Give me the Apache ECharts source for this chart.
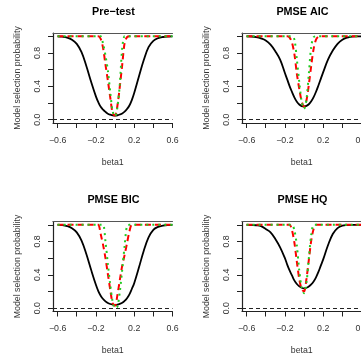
<!DOCTYPE html>
<html>
<head>
<meta charset="utf-8">
<script src="https://cdn.jsdelivr.net/npm/echarts@6/dist/echarts.min.js"></script>
<style>
html,body{margin:0;padding:0;background:#fff;}
#chart{width:361px;height:359px;}
</style>
</head>
<body>
<div id="chart"></div>
<script>
// ---- data ----
const beta1 = [-0.6,-0.55,-0.5,-0.45,-0.4,-0.35,-0.3,-0.25,-0.2,-0.175,-0.15,-0.125,-0.1,-0.075,-0.05,-0.025,0,0.025,0.05,0.075,0.1,0.125,0.15,0.175,0.2,0.25,0.3,0.35,0.4,0.45,0.5,0.55,0.6];
const xTicks = [-0.6,-0.4,-0.2,0,0.2,0.4,0.6];
const xTickLabels = [-0.6,-0.2,0.2,0.6];
const yTicks = [0,0.2,0.4,0.6,0.8,1.0];
const yTickLabels = [0,0.4,0.8];
const titles = ['Pre\u2212test','PMSE AIC','PMSE BIC','PMSE HQ'];
const xLabel = 'beta1';
const yLabel = 'Model selection probability';
const refLine = [0];

const preTestSolid  = [1.0,0.996,0.985,0.96,0.91,0.81,0.645,0.455,0.28,0.21,0.155,0.12,0.093,0.072,0.06,0.052,0.05,0.053,0.062,0.075,0.097,0.128,0.17,0.235,0.32,0.52,0.715,0.87,0.945,0.978,0.992,0.998,1.0];
const preTestDashed = [1,1,1,1,1,1,1,1,1,1,0.97,0.86,0.66,0.47,0.265,0.08,0.05,0.17,0.4,0.66,0.92,0.99,1,1,1,1,1,1,1,1,1,1,1];
const preTestDotted = [1,1,1,1,1,1,1,1,1,1,1,0.91,0.77,0.59,0.33,0.1,0.04,0.15,0.43,0.86,1,1,1,1,1,1,1,1,1,1,1,1,1];

const aicSolid  = [1,0.998,0.99,0.975,0.95,0.9,0.82,0.72,0.56,0.48,0.4,0.33,0.265,0.215,0.182,0.163,0.158,0.165,0.185,0.22,0.27,0.335,0.41,0.49,0.57,0.72,0.83,0.91,0.96,0.985,0.997,1,1];
const aicDashed = [1,1,1,1,1,1,1,1,1,1,0.985,0.92,0.78,0.55,0.37,0.22,0.155,0.23,0.42,0.65,0.85,0.96,0.995,1,1,1,1,1,1,1,1,1,1];
const aicDotted = [1,1,1,1,1,1,1,1,1,1,1,1,0.96,0.72,0.45,0.22,0.13,0.24,0.55,0.88,0.99,1,1,1,1,1,1,1,1,1,1,1,1];

const bicSolid  = [1,0.997,0.985,0.96,0.91,0.81,0.65,0.46,0.28,0.205,0.15,0.11,0.082,0.062,0.05,0.043,0.04,0.043,0.052,0.065,0.088,0.12,0.165,0.23,0.3,0.49,0.69,0.85,0.94,0.975,0.99,0.998,1];
const bicDashed = [1,1,1,1,1,1,1,1,1,1,0.89,0.76,0.6,0.41,0.22,0.06,0.03,0.16,0.34,0.51,0.64,0.78,0.92,1,1,1,1,1,1,1,1,1,1];
const bicDotted = [1,1,1,1,1,1,1,1,1,1,1,1,0.8,0.53,0.28,0.08,0.0,0.02,0.2,0.46,0.75,0.99,1,1,1,1,1,1,1,1,1,1,1];

const hqSolid  = [1,0.998,0.995,0.985,0.95,0.91,0.83,0.73,0.6,0.52,0.45,0.39,0.33,0.29,0.262,0.245,0.238,0.245,0.26,0.285,0.32,0.37,0.435,0.51,0.585,0.755,0.89,0.96,0.99,0.998,1,1,1];
const hqDashed = [1,1,1,1,1,1,1,1,1,1,1,0.93,0.78,0.555,0.35,0.23,0.2,0.35,0.58,0.81,0.95,1,1,1,1,1,1,1,1,1,1,1,1];
const hqDotted = [1,1,1,1,1,1,1,1,1,1,1,1,0.93,0.75,0.45,0.25,0.18,0.3,0.6,0.88,1,1,1,1,1,1,1,1,1,1,1,1,1];

// ---- layout / styling ----
const FONT = 'Liberation Sans, Arial, sans-serif';
const panels = [
  {title: titles[0], solid: preTestSolid, dashed: preTestDashed, dotted: preTestDotted},
  {title: titles[1], solid: aicSolid, dashed: aicDashed, dotted: aicDotted},
  {title: titles[2], solid: bicSolid, dashed: bicDashed, dotted: bicDotted},
  {title: titles[3], solid: hqSolid, dashed: hqDashed, dotted: hqDotted}
];
const gLeft = [53, 242, 53, 242];
const gTop = [33, 33, 221.5, 221.5];
const gW = 119.5, gH = 90;
const X_MIN = -0.648, X_MAX = 0.6, Y_MIN = -0.04, Y_MAX = 1.04;
const fmt = v => (v < 0 ? '\u2212' : '') + Math.abs(v).toFixed(1);
const zip = ys => beta1.map((x, i) => [x, ys[i]]);
const axisCol = '#222';
const txtCol = '#333';

const option = {
  animation: false,
  backgroundColor: '#fff',
  grid: [], xAxis: [], yAxis: [], series: [], graphic: []
};

panels.forEach((p, i) => {
  option.grid.push({left: gLeft[i], top: gTop[i], width: gW, height: gH, containLabel: false, outerBoundsMode: 'none'});
  option.xAxis.push({
    type: 'value', gridIndex: i, min: X_MIN, max: X_MAX, position: 'bottom',
    name: xLabel, nameLocation: 'middle', nameGap: 35,
    nameTextStyle: {fontFamily: FONT, fontSize: 8.8, color: txtCol},
    axisLine: {show: true, onZero: false, lineStyle: {color: axisCol, width: 1}},
    axisTick: {show: true, inside: false, length: 5, customValues: xTicks, lineStyle: {color: axisCol, width: 1}},
    axisLabel: {show: true, customValues: xTickLabels, formatter: fmt, margin: 13,
      hideOverlap: false, fontFamily: FONT, fontSize: 8.8, color: txtCol},
    splitLine: {show: false}
  });
  option.xAxis.push({
    type: 'value', gridIndex: i, min: X_MIN, max: X_MAX, position: 'top',
    axisLine: {show: true, onZero: false, lineStyle: {color: '#555', width: 1.2}},
    axisTick: {show: false}, axisLabel: {show: false}, splitLine: {show: false}
  });
  option.yAxis.push({
    type: 'value', gridIndex: i, min: Y_MIN, max: Y_MAX, position: 'left',
    name: yLabel, nameLocation: 'middle', nameGap: 31, nameRotate: 90,
    nameTextStyle: {fontFamily: FONT, fontSize: 8.8, color: txtCol},
    axisLine: {show: true, onZero: false, lineStyle: {color: axisCol, width: 1.2}},
    axisTick: {show: true, inside: false, length: 5, customValues: yTicks, lineStyle: {color: axisCol, width: 1}},
    axisLabel: {show: true, customValues: yTickLabels, formatter: fmt, rotate: 90, margin: 11,
      fontFamily: FONT, fontSize: 8.8, color: txtCol},
    splitLine: {show: false}
  });
  const xi = i * 2;
  option.series.push({
    type: 'line', xAxisIndex: xi, yAxisIndex: i, data: zip(p.solid), showSymbol: false, smooth: 0.4,
    lineStyle: {color: '#000', width: 1.8}, z: 3,
    markLine: {silent: true, symbol: 'none', label: {show: false},
      lineStyle: {color: '#222', width: 1, type: [4, 3]},
      data: refLine.map(v => ({yAxis: v}))}
  });
  option.series.push({
    type: 'line', xAxisIndex: xi, yAxisIndex: i, data: zip(p.dashed), showSymbol: false, smooth: 0.3,
    lineStyle: {color: '#ff0000', width: 2, type: [6, 4]}, z: 4
  });
  option.series.push({
    type: 'line', xAxisIndex: xi, yAxisIndex: i, data: zip(p.dotted), showSymbol: false, smooth: 0.3,
    lineStyle: {color: '#22cc22', width: 2, type: [2, 4]}, z: 5
  });
  option.graphic.push({
    type: 'text', x: gLeft[i] + 60.5, y: gTop[i] - 21,
    style: {text: p.title, textAlign: 'center', textVerticalAlign: 'middle',
      font: 'bold 10.8px ' + FONT, fill: '#000'}
  });
});

const chart = echarts.init(document.getElementById('chart'), null, {renderer: 'canvas'});
chart.setOption(option);
</script>
</body>
</html>
